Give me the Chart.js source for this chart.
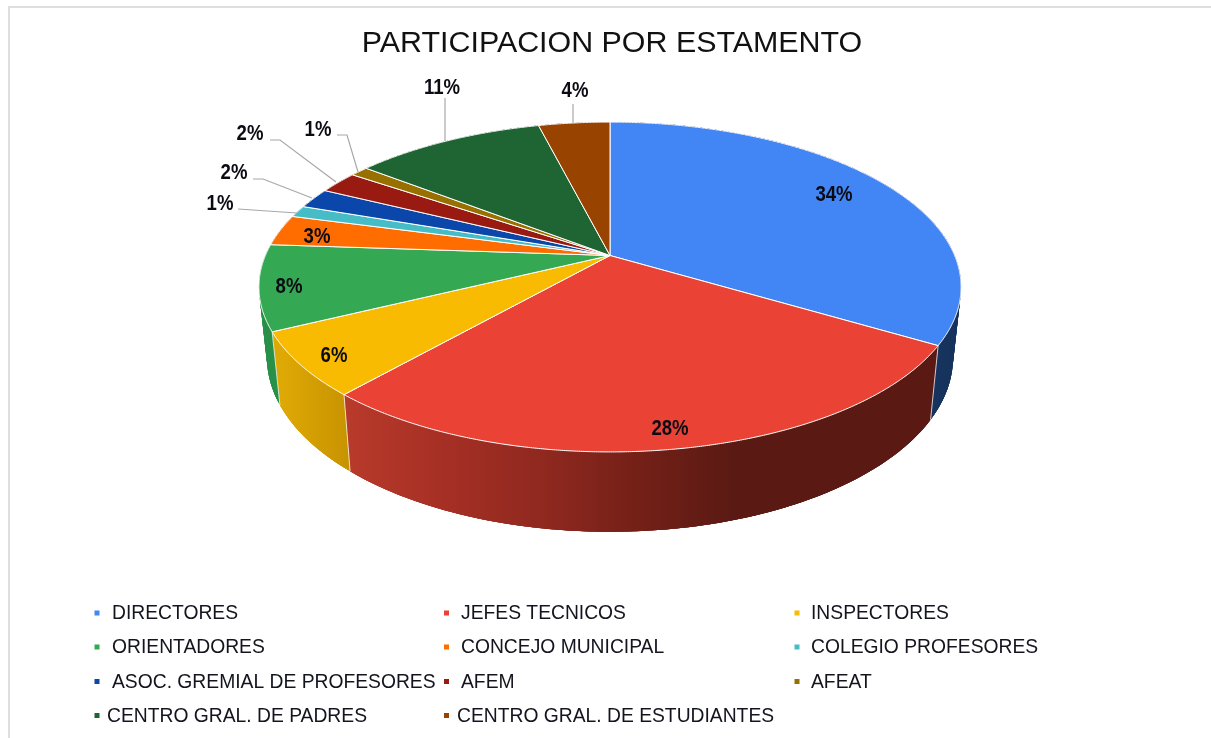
<!DOCTYPE html>
<html>
<head>
<meta charset="utf-8">
<style>
html,body{margin:0;padding:0;background:#fff;width:1211px;height:738px;overflow:hidden}
#frame{position:absolute;left:8px;top:6px;right:0;bottom:0;border-left:2px solid #dedede;border-top:2px solid #dedede}
canvas{position:absolute;left:0;top:0;filter:blur(0.4px)}
</style>
<script src="https://cdn.jsdelivr.net/npm/chart.js@4/dist/chart.umd.min.js"></script>
</head>
<body>
<div id="frame"></div>
<canvas id="c" width="1211" height="738"></canvas>
<script>
const chartTitle = "PARTICIPACION POR ESTAMENTO";
const categories = ["DIRECTORES","JEFES TECNICOS","INSPECTORES","ORIENTADORES","CONCEJO MUNICIPAL","COLEGIO PROFESORES","ASOC. GREMIAL DE PROFESORES","AFEM","AFEAT","CENTRO GRAL. DE PADRES","CENTRO GRAL. DE ESTUDIANTES"];
const shares = [33.55,27.95,6.25,8.35,3.05,1.15,2.0,2.2,1.0,10.55,3.95];
const sliceColors = ["#4285f4","#ea4335","#f9ba02","#34a853","#ff6d01","#46bdc6","#0b47aa","#981a10","#977000","#1f6433","#994300"];
const wallColors = ["#17345e",null,null,"#2a9049","#b34d00","#2a7f85","#082f72","#66120b","#654b00","#144322","#662d00"];

// geometry of the tilted disc (perspective projection of the pie's angles)
const disc = {cx:610, cy:255.5, a:344.6, b:158.9, q:0.191, shrink:0.977, yScale:1.055, yOff:55};
function rim(t){
  const x=Math.sin(t), y=-Math.cos(t), w=1-disc.q*y;
  return [disc.cx+disc.a*x/w, disc.cy+disc.b*y/w];
}
function floor(p){ return [disc.cx+disc.shrink*(p[0]-disc.cx), p[1]*disc.yScale+disc.yOff]; }

// label centres and leader polylines, per slice index
const labelLayout = [
 {c:[834,195]},{c:[670,429]},{c:[334,356]},{c:[289,287]},{c:[317,237]},
 {c:[220,204],line:[[238,209],[297,213]]},
 {c:[234,173],line:[[253,179],[263,179],[312,198]]},
 {c:[250,134],line:[[270,140],[280,140],[336,182]]},
 {c:[318,130],line:[[337,135],[347,135],[358,172]]},
 {c:[442,88],line:[[445,98],[445,141]]},
 {c:[575,91],line:[[573,104],[573,124]]}
];
const legendRowY = [613,647,681.5,715.5];
const legendCols = [[97,112],[446.5,461],[797,811]];
const legendLastRow = [[97,107],[446.5,457]];

const perspectivePie = {
  id:'perspectivePie',
  beforeDatasetDraw(chart,args){
    const ctx=chart.ctx, arcs=chart.getDatasetMeta(0).data;
    const ang=arcs.map(a=>[a.startAngle+Math.PI/2,a.endAngle+Math.PI/2]);
    ctx.save();
    const redGrad=ctx.createLinearGradient(347,0,940,0);
    [[0,"#b83a2b"],[0.17,"#a52f24"],[0.34,"#8e281f"],[0.49,"#742017"],[0.65,"#5a1a13"],[1,"#5a1a13"]].forEach(s=>redGrad.addColorStop(s[0],s[1]));
    const yelGrad=ctx.createLinearGradient(280,0,352,0);
    yelGrad.addColorStop(0,"#dfa905"); yelGrad.addColorStop(1,"#c69200");
    // side walls: a body polygon plus overlapping strips that fill out the silhouette
    arcs.forEach((a,i)=>{
      ctx.fillStyle = i===1?redGrad : i===2?yelGrad : wallColors[i];
      const n=Math.max(3,Math.ceil((ang[i][1]-ang[i][0])/0.01));
      const top=[];
      for(let k=0;k<=n;k++) top.push(rim(ang[i][0]+(ang[i][1]-ang[i][0])*k/n));
      ctx.beginPath();
      top.forEach((p,k)=>k?ctx.lineTo(p[0],p[1]):ctx.moveTo(p[0],p[1]));
      for(let k=n;k>=0;k--){const f=floor(top[k]);ctx.lineTo(f[0],f[1]);}
      ctx.closePath();ctx.fill();
      for(let k=0;k<n;k++){
        const e=Math.min(n,k+3);
        const p0=top[k],p1=top[e],q0=floor(p0),q1=floor(p1);
        ctx.beginPath();ctx.moveTo(p0[0],p0[1]);ctx.lineTo(p1[0],p1[1]);ctx.lineTo(q1[0],q1[1]);ctx.lineTo(q0[0],q0[1]);ctx.closePath();
        ctx.fill();
      }
    });
    // wall separators
    ctx.strokeStyle="rgba(255,255,255,0.75)";ctx.lineWidth=1;
    arcs.forEach((a,i)=>{
      const p=rim(ang[i][1]),f=floor(p);
      ctx.beginPath();ctx.moveTo(p[0],p[1]);ctx.lineTo(f[0],f[1]);ctx.stroke();
    });
    // top face
    arcs.forEach((a,i)=>{
      ctx.beginPath();ctx.moveTo(disc.cx,disc.cy);
      const n=Math.max(2,Math.ceil((ang[i][1]-ang[i][0])/0.005));
      for(let k=0;k<=n;k++){const p=rim(ang[i][0]+(ang[i][1]-ang[i][0])*k/n);ctx.lineTo(p[0],p[1]);}
      ctx.closePath();
      ctx.fillStyle=sliceColors[i];ctx.fill();
      ctx.strokeStyle="#ffffff";ctx.lineWidth=1;ctx.lineJoin="round";ctx.stroke();
    });
    ctx.restore();
    return false;
  },
  afterDraw(chart){
    const ctx=chart.ctx, vals=chart.data.datasets[0].data, total=vals.reduce((s,v)=>s+v,0);
    ctx.save();
    // leader lines
    ctx.strokeStyle="#a8a8a8";ctx.lineWidth=1.2;
    labelLayout.forEach(l=>{
      if(!l.line)return;
      ctx.beginPath();l.line.forEach((p,k)=>k?ctx.lineTo(p[0],p[1]):ctx.moveTo(p[0],p[1]));ctx.stroke();
    });
    // value labels (slightly condensed, as in the source)
    ctx.fillStyle="#0b0b14";ctx.textAlign="center";ctx.textBaseline="middle";
    ctx.font='bold 20px "Liberation Sans",Arial,sans-serif';
    vals.forEach((v,i)=>{
      ctx.save();
      ctx.translate(labelLayout[i].c[0],labelLayout[i].c[1]);
      ctx.scale(0.93,1.12);
      ctx.fillText(Math.round(v/total*100)+"%",0,0);
      ctx.restore();
    });
    // legend
    ctx.textAlign="left";
    ctx.font='19.3px "Liberation Sans",Arial,sans-serif';
    chart.data.labels.forEach((name,i)=>{
      const row=Math.floor(i/3),col=i%3;
      const pos=row===3?legendLastRow[col]:legendCols[col];
      const y=legendRowY[row];
      ctx.fillStyle=sliceColors[i];
      ctx.fillRect(pos[0]-2.5,y-2.5,5,5);
      ctx.fillStyle="#14141f";
      ctx.fillText(name,pos[1],y+1);
    });
    ctx.restore();
  }
};

new Chart(document.getElementById('c'),{
  type:'pie',
  data:{labels:categories,datasets:[{data:shares,backgroundColor:sliceColors,borderColor:'#ffffff'}]},
  options:{
    responsive:false,animation:false,
    layout:{padding:{left:13}},
    plugins:{
      legend:{display:false},
      tooltip:{enabled:false},
      title:{display:true,text:chartTitle,color:'#111111',padding:{top:25,bottom:10},
             font:{family:'"Liberation Sans",Arial,sans-serif',size:30.4,weight:'normal'}}
    }
  },
  plugins:[perspectivePie]
});
</script>
</body>
</html>
